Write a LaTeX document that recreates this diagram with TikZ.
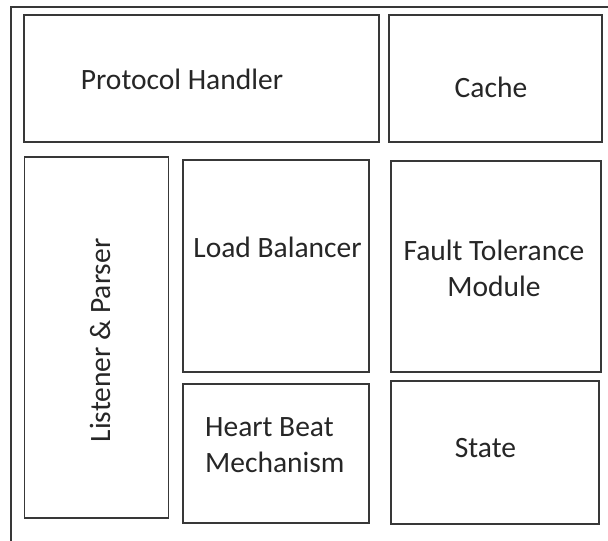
\documentclass[tikz,border=0pt]{standalone}
\usepackage{fontspec}
\setmainfont{Carlito}
\begin{document}
\begin{tikzpicture}[x=1pt,y=-1pt,
  blk/.style={draw=black!78,line width=1.7pt,rectangle,anchor=north west,inner sep=0pt,outer sep=0pt},
  lbl/.style={text=black!85,font=\fontsize{29.5}{36}\selectfont,inner sep=0pt},
  frame/.style={draw=black!78,line width=1.5pt}]
\useasboundingbox[fill=white] (0,0) rectangle (608,541);
% outer frame: top and left edges
\coordinate (ftr) at (608,7);
\coordinate (ftl) at (11,7);
\coordinate (fbl) at (11,541);
\draw[frame] (ftr) -- (ftl) -- (fbl);
% blocks
\node[blk,minimum width=355pt,minimum height=127pt] (proto) at (24,15) {};
\node[blk,minimum width=213pt,minimum height=127pt] (cache) at (389,15) {};
\node[blk,minimum width=144pt,minimum height=361pt] (listen) at (24.5,157) {};
\node[blk,minimum width=186pt,minimum height=212pt] (lb) at (183,160) {};
\node[blk,minimum width=186pt,minimum height=139pt] (hb) at (183,384) {};
\node[blk,minimum width=210pt,minimum height=211pt] (ft) at (391,161) {};
\node[blk,minimum width=208pt,minimum height=143pt] (state) at (391,381) {};
% labels
\node[lbl,anchor=base] (tproto) at (182,89) {Protocol Handler};
\node[lbl,anchor=base] (tcache) at (491,97) {Cache};
\node[lbl,anchor=base,rotate=90] (tlisten) at (110,340.5) {Listener \& Parser};
\node[lbl,anchor=base] (tlb) at (277.5,257) {Load Balancer};
\node[lbl,anchor=north,align=center] (tft) at (494,239.5) {Fault Tolerance\\Module};
\node[lbl,anchor=north west,align=left] (thb) at (205,417) {Heart Beat\\Mechanism};
\node[lbl,anchor=base] (tstate) at (485.5,457) {State};
\end{tikzpicture}
\end{document}
